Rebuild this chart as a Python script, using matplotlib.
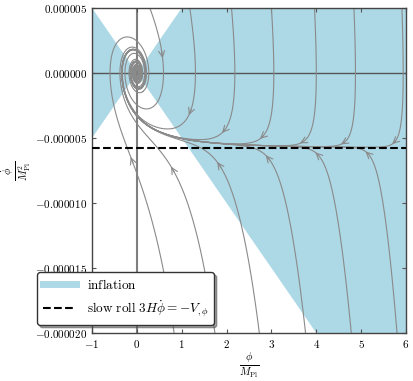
import matplotlib
matplotlib.use('Agg')
import matplotlib.pyplot as plt
import numpy as np
from matplotlib.lines import Line2D

plt.rcParams['mathtext.fontset'] = 'cm'
plt.rcParams['font.family'] = 'serif'

# Datos
m_inflaton = 7.07e-6          # masa del potencial V = m^2 phi^2 / 2
slow_roll_phidot = -5.77e-6   # 3 H phidot = -V'
phi_edge = [-1.0, 0.0, 6.0]
infl_upper = [5.0e-6, 0.0, 3.0e-5]
infl_lower = [-5.0e-6, 0.0, -3.0e-5]

# puntos de partida de las trayectorias (phi)
top_starts = [0.29, 1.18, 2.11, 3.0, 3.96, 4.84, 5.91]
bottom_starts = [0.83, 1.74, 2.73, 3.76, 4.78, 5.8]
# nivel de phidot donde aparece la flecha en cada trayectoria
top_arrow_lvl = [1.77e-6, -2.85e-6, -4.38e-6, -4.92e-6, -5.3e-6, -5.38e-6, -5.3e-6]
bottom_arrow_lvl = [-6.85e-6, -7.6e-6, -7.2e-6, -6.7e-6, -6.3e-6, -6.15e-6]

xticks = [-1, 0, 1, 2, 3, 4, 5, 6]
yticks = [5e-6, 0.0, -5e-6, -1e-5, -1.5e-5, -2e-5]

xmin, xmax = -1.0, 6.0
ymin, ymax = -2e-5, 5e-6

fig = plt.figure(figsize=(4.13, 3.81), dpi=100)
ax = fig.add_axes([92/413, 1-333/381, 314/413, 325/381])

ax.fill_between(phi_edge, infl_lower, infl_upper, color='lightblue', lw=0, zorder=0)

# campo vectorial de la ecuacion de movimiento
x = np.linspace(xmin, xmax, 300)
y = np.linspace(ymin, ymax, 300)
X, Y = np.meshgrid(x, y)
H = np.sqrt((0.5 * Y**2 + 0.5 * m_inflaton**2 * X**2) / 3.0)
U = Y
V = -3.0 * H * Y - m_inflaton**2 * X

gris = '#8a8a8a'
starts = [(p, ymax * 0.999, lv, -1) for p, lv in zip(top_starts, top_arrow_lvl)]
starts += [(p, ymin * 0.9995, lv, 1) for p, lv in zip(bottom_starts, bottom_arrow_lvl)]

for p0, q0, lvl, sgn in starts:
    sp = ax.streamplot(x, y, U, V, start_points=np.array([[p0, q0]]), density=5,
                       broken_streamlines=False, maxlength=4.0, color=gris,
                       linewidth=0.8, arrowstyle='-', zorder=2)
    segs = sp.lines.get_segments()
    if len(segs) == 0:
        continue
    pts = np.concatenate([np.asarray(s) for s in segs], axis=0)
    if len(pts) < 3:
        continue
    # ordenar desde el punto de partida
    d0 = abs(pts[0, 0] - p0) + abs(pts[0, 1] - q0) / 2.5e-5 * 7
    d1 = abs(pts[-1, 0] - p0) + abs(pts[-1, 1] - q0) / 2.5e-5 * 7
    if d1 < d0:
        pts = pts[::-1]
    lado = sgn * (pts[:, 1] - lvl)
    cruce = np.nonzero((lado[:-1] < 0) & (lado[1:] >= 0))[0]
    i = cruce[0] if len(cruce) else len(pts) // 2
    # flecha sobre la misma trayectoria, en el sentido del flujo
    scr = ax.transData.transform(pts)
    dist = np.hypot(*(scr - scr[i]).T)
    lejos = np.nonzero(dist[i + 1:] > 3)[0]
    if len(lejos) == 0:
        continue
    j = i + 1 + lejos[0]
    ax.annotate('', xy=pts[j], xytext=pts[i],
                arrowprops=dict(arrowstyle='->', color=gris, lw=0.8,
                                shrinkA=0, shrinkB=0, mutation_scale=11),
                zorder=2)

ax.axhline(0, color='#555555', lw=1.0, zorder=1)
ax.axvline(0, color='gray', lw=1.5, zorder=1)
ax.axhline(slow_roll_phidot, color='k', ls='--', lw=1.5, zorder=3)

ax.set_xlim(xmin, xmax)
ax.set_ylim(ymin, ymax)
ax.set_xticks(xticks)
ax.set_xticklabels(['$%d$' % t for t in xticks])
ax.set_yticks(yticks)
ax.set_yticklabels(['$%.6f$' % t if t != 0 else '$0.000000$' for t in yticks])
ax.tick_params(labelsize=8, direction='in', top=True, right=True, length=3, color='#555555')
for s in ax.spines.values():
    s.set_color('#444444')
    s.set_linewidth(1.0)

ax.set_xlabel(r'$\frac{\phi}{M_{\rm Pl}}$', fontsize=11, labelpad=1)
ax.set_ylabel(r'$\frac{\dot\phi}{M_{\rm Pl}^2}$', fontsize=11)
ax.yaxis.set_label_coords(-0.188, 0.5)

handles = [Line2D([], [], color='lightblue', lw=5),
           Line2D([], [], color='k', ls='--', lw=1.5)]
labels = [r'$\mathrm{inflation}$', r'$\mathrm{slow\ roll}\ 3H\dot\phi = -V_{,\phi}$']
ax.legend(handles, labels, loc='lower left', bbox_to_anchor=(-0.175, 0.025),
          borderaxespad=0, fontsize=9.5, handlelength=2.5, labelspacing=0.5,
          borderpad=0.45, fancybox=True, shadow=True,
          framealpha=1, edgecolor='#333333')

fig.savefig('out.png', dpi=100)
